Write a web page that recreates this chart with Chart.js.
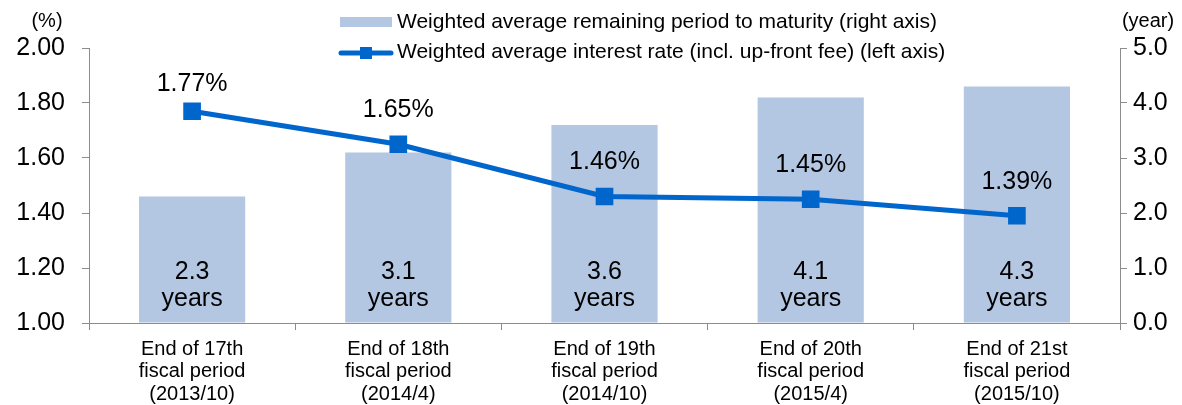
<!DOCTYPE html>
<html>
<head>
<meta charset="utf-8">
<script src="https://cdn.jsdelivr.net/npm/chart.js@4"></script>
<style>
    body { margin: 0; background: #fff; }
    #wrap { width: 1182px; height: 405px; }
</style>
</head>
<body>
<div id="wrap"><canvas id="debtChart" width="1182" height="405"></canvas></div>
<script>
// Chart data
const periods = [
    ['End of 17th', 'fiscal period', '(2013/10)'],
    ['End of 18th', 'fiscal period', '(2014/4)'],
    ['End of 19th', 'fiscal period', '(2014/10)'],
    ['End of 20th', 'fiscal period', '(2015/4)'],
    ['End of 21st', 'fiscal period', '(2015/10)']
];
const maturityYears = [2.3, 3.1, 3.6, 4.1, 4.3];
const interestRate = [1.77, 1.65, 1.46, 1.45, 1.39];
const barLabel = 'Weighted average remaining period to maturity (right axis)';
const lineLabel = 'Weighted average interest rate (incl. up-front fee) (left axis)';

const FONT = "'Liberation Sans', Arial, sans-serif";
const BAR_COLOR = '#b4c7e2';
const LINE_COLOR = '#0066cc';
const AXIS_COLOR = '#8c8c8c';

// Value labels, unit captions and the legend
const labelPlugin = {
    id: 'labelPlugin',
    afterDatasetsDraw(chart) {
        const ctx = chart.ctx;
        const area = chart.chartArea;
        ctx.save();
        ctx.fillStyle = '#000';
        ctx.textAlign = 'center';
        ctx.textBaseline = 'alphabetic';
        ctx.font = `25px ${FONT}`;

        // bar values inside the bars
        chart.getDatasetMeta(0).data.forEach((bar, i) => {
            ctx.fillText(maturityYears[i].toFixed(1), bar.x, area.bottom - 44);
            ctx.fillText('years', bar.x, area.bottom - 17);
        });

        // line values above the points
        ctx.textBaseline = 'middle';
        chart.getDatasetMeta(1).data.forEach((pt, i) => {
            const y = Math.max(pt.y - 34, area.top + 36);
            ctx.fillText(interestRate[i].toFixed(2) + '%', pt.x, y);
        });

        // unit captions
        ctx.font = `20px ${FONT}`;
        ctx.fillText('(%)', 47, 21);
        ctx.fillText('(year)', 1148, 21);

        // legend
        ctx.textAlign = 'left';
        ctx.font = `21px ${FONT}`;
        ctx.fillStyle = BAR_COLOR;
        ctx.fillRect(340, 17, 52, 10);
        ctx.fillStyle = '#000';
        ctx.fillText(barLabel, 397, 22);

        ctx.strokeStyle = LINE_COLOR;
        ctx.lineWidth = 5;
        ctx.lineCap = 'round';
        ctx.beginPath();
        ctx.moveTo(341, 53);
        ctx.lineTo(391, 53);
        ctx.stroke();
        ctx.fillStyle = LINE_COLOR;
        ctx.fillRect(360, 47, 12, 12);
        ctx.fillStyle = '#000';
        ctx.fillText(lineLabel, 397, 52);
        ctx.restore();
    }
};

new Chart(document.getElementById('debtChart').getContext('2d'), {
    type: 'bar',
    data: {
        labels: periods,
        datasets: [{
            type: 'bar',
            label: barLabel,
            data: maturityYears,
            yAxisID: 'y1',
            backgroundColor: BAR_COLOR,
            categoryPercentage: 1,
            barPercentage: 0.515,
            order: 2
        }, {
            type: 'line',
            label: lineLabel,
            data: interestRate,
            yAxisID: 'y',
            borderColor: LINE_COLOR,
            backgroundColor: LINE_COLOR,
            borderWidth: 5,
            pointStyle: 'rect',
            pointRadius: 12.5,
            pointBorderWidth: 0,
            tension: 0,
            order: 1
        }]
    },
    options: {
        responsive: false,
        animation: false,
        events: [],
        layout: { padding: { top: 48, left: 0, right: 0, bottom: 0 } },
        plugins: {
            legend: { display: false },
            tooltip: { enabled: false }
        },
        scales: {
            x: {
                afterFit: (scale) => { scale.height = 82; },
                grid: {
                    offset: true,
                    drawOnChartArea: false,
                    tickLength: 7,
                    color: AXIS_COLOR
                },
                border: { color: AXIS_COLOR },
                ticks: {
                    color: '#000',
                    padding: 8,
                    maxRotation: 0,
                    autoSkip: false,
                    font: { family: FONT, size: 20, lineHeight: 1.13 }
                }
            },
            y: {
                position: 'left',
                min: 1,
                max: 2,
                afterFit: (scale) => { scale.width = 89; },
                grid: {
                    drawOnChartArea: false,
                    tickLength: 7,
                    color: AXIS_COLOR
                },
                border: { color: AXIS_COLOR },
                ticks: {
                    stepSize: 0.2,
                    color: '#000',
                    padding: 17,
                    font: { family: FONT, size: 25 },
                    callback: (v) => v.toFixed(2)
                }
            },
            y1: {
                position: 'right',
                min: 0,
                max: 5,
                afterFit: (scale) => { scale.width = 62; },
                grid: {
                    drawOnChartArea: false,
                    tickLength: 7,
                    color: AXIS_COLOR
                },
                border: { color: AXIS_COLOR },
                ticks: {
                    stepSize: 1,
                    color: '#000',
                    padding: 6,
                    font: { family: FONT, size: 25 },
                    callback: (v) => v.toFixed(1)
                }
            }
        }
    },
    plugins: [labelPlugin]
});
</script>
</body>
</html>
